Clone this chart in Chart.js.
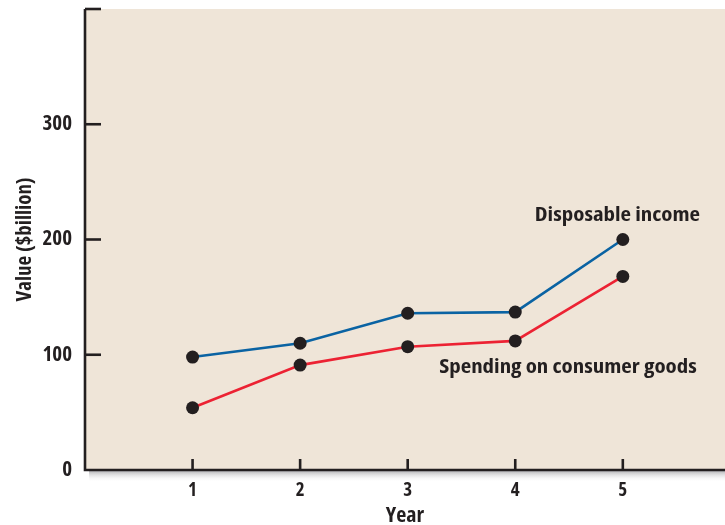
<!DOCTYPE html>
<html>
<head>
<meta charset="utf-8">
<script src="https://cdn.jsdelivr.net/npm/chart.js@4/dist/chart.umd.min.js"></script>
<style>
  html, body { margin: 0; padding: 0; background: #ffffff; }
  #chart { display: block; }
</style>
</head>
<body>
<canvas id="chart" width="725" height="525"></canvas>
<script>
// Years on the horizontal axis
const years = [1, 2, 3, 4, 5];
// Values in $billion
const disposableIncome = [98, 110, 136, 137, 200];
const consumerSpending = [54, 91, 107, 112, 168];
// Axis ticks
const yTickValues = [0, 100, 200, 300, 400];
const yTickLabels = ['0', '100', '200', '300', ''];
const xTickValues = [1, 2, 3, 4, 5];
// Series captions placed beside the lines (in data units)
const seriesCaptions = [
  { text: 'Disposable income', x: 4.95, y: 221 },
  { text: 'Spending on consumer goods', x: 4.49, y: 89 }
];

const FONT = "'Open Sans', 'DejaVu Sans Condensed', sans-serif";
const INK = '#231f20';
const PAPER = '#efe5d8';

const toPoints = (vals) => years.map((yr, i) => ({ x: yr, y: vals[i] }));

const framePlugin = {
  id: 'frame',
  beforeDraw(chart) {
    const { ctx, chartArea: a } = chart;
    ctx.save();
    // soft shadow under the baseline
    const g = ctx.createLinearGradient(0, a.bottom - 1, 0, a.bottom + 12);
    g.addColorStop(0, 'rgba(120,120,125,0.75)');
    g.addColorStop(1, 'rgba(255,255,255,0)');
    ctx.fillStyle = g;
    ctx.fillRect(a.left + 4, a.bottom - 1, a.right - a.left, 13);
    // plot background
    ctx.fillStyle = PAPER;
    ctx.fillRect(a.left, a.top, a.right - a.left, a.bottom - a.top);
    ctx.restore();
  },
  afterDraw(chart) {
    const { ctx, chartArea: a, scales } = chart;
    ctx.save();
    ctx.strokeStyle = INK;
    ctx.lineWidth = 2.6;
    ctx.lineCap = 'butt';
    // axes
    ctx.beginPath();
    ctx.moveTo(a.left, a.top);
    ctx.lineTo(a.left, a.bottom);
    ctx.lineTo(a.right, a.bottom);
    ctx.stroke();
    // inward ticks on the value axis
    yTickValues.forEach(v => {
      if (v === 0) return;
      const y = scales.y.getPixelForValue(v);
      ctx.beginPath();
      ctx.moveTo(a.left, y);
      ctx.lineTo(a.left + 16, y);
      ctx.stroke();
    });
    // inward ticks on the year axis
    xTickValues.forEach(v => {
      const x = scales.x.getPixelForValue(v);
      ctx.beginPath();
      ctx.moveTo(x, a.bottom);
      ctx.lineTo(x, a.bottom - 11);
      ctx.stroke();
    });
    // series captions, condensed face widened slightly
    ctx.fillStyle = INK;
    ctx.font = `bold condensed 20px ${FONT}`;
    ctx.textAlign = 'center';
    ctx.textBaseline = 'middle';
    seriesCaptions.forEach(c => {
      const px = scales.x.getPixelForValue(c.x);
      const py = scales.y.getPixelForValue(c.y);
      ctx.save();
      ctx.translate(px, py);
      ctx.scale(1.145, 1);
      ctx.fillText(c.text, 0, 0);
      ctx.restore();
    });
    ctx.restore();
  }
};

const axisFont = (size) => ({ family: FONT, size, weight: 'bold condensed' });

new Chart(document.getElementById('chart'), {
  type: 'line',
  data: {
    datasets: [
      {
        label: 'Disposable income',
        data: toPoints(disposableIncome),
        borderColor: '#0a63a3',
        borderWidth: 2.6,
        pointRadius: 6.5,
        pointBackgroundColor: INK,
        pointBorderColor: INK,
        pointBorderWidth: 0,
        tension: 0
      },
      {
        label: 'Spending on consumer goods',
        data: toPoints(consumerSpending),
        borderColor: '#ec2233',
        borderWidth: 2.6,
        pointRadius: 6.5,
        pointBackgroundColor: INK,
        pointBorderColor: INK,
        pointBorderWidth: 0,
        tension: 0
      }
    ]
  },
  options: {
    responsive: false,
    devicePixelRatio: 1,
    animation: false,
    layout: { autoPadding: false, padding: { top: 9, right: 0, left: 0, bottom: 0 } },
    plugins: { legend: { display: false }, tooltip: { enabled: false } },
    scales: {
      x: {
        type: 'linear',
        min: 0,
        max: 5.95,
        afterBuildTicks: s => { s.ticks = xTickValues.map(v => ({ value: v })); },
        afterFit: s => { s.height = 55; s.paddingLeft = 0; s.paddingRight = 0; },
        grid: { display: false, drawTicks: false },
        border: { display: false },
        ticks: {
          color: INK,
          padding: 9,
          font: axisFont(19),
          callback: v => String(v)
        },
        title: {
          display: true,
          text: 'Year',
          color: INK,
          font: axisFont(22),
          padding: { top: 0, bottom: -4 }
        }
      },
      y: {
        min: 0,
        max: 400,
        afterBuildTicks: s => { s.ticks = yTickValues.map(v => ({ value: v })); },
        afterFit: s => { s.width = 85; s.paddingTop = 0; s.paddingBottom = 0; },
        grid: { display: false, drawTicks: false },
        border: { display: false },
        ticks: {
          color: INK,
          padding: 13,
          font: axisFont(21),
          callback: (v) => yTickLabels[yTickValues.indexOf(v)]
        },
        title: {
          display: true,
          text: 'Value ($billion)',
          color: INK,
          font: axisFont(21),
          padding: { top: 12, bottom: 0 }
        }
      }
    }
  },
  plugins: [framePlugin]
});
</script>
</body>
</html>
